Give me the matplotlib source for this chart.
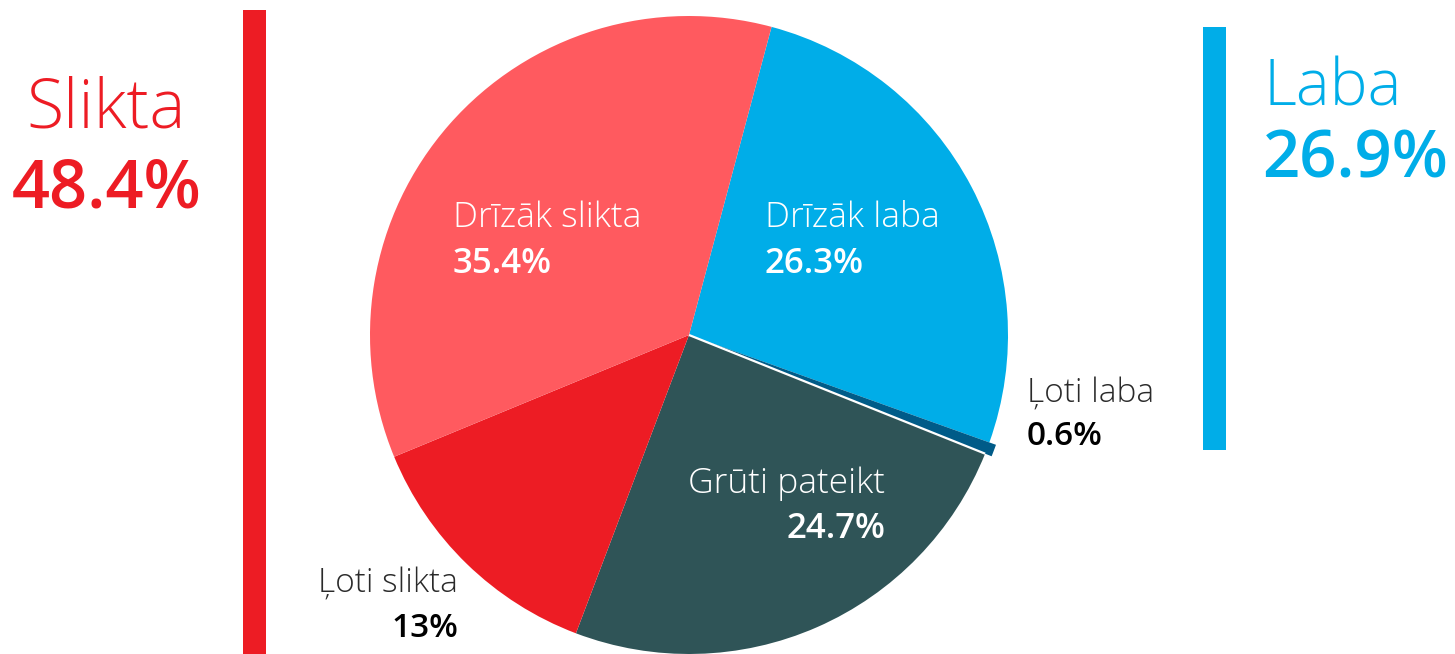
import numpy as np
import matplotlib
matplotlib.use("Agg")
import matplotlib.pyplot as plt
from matplotlib.patches import Rectangle

# dati
kategorijas = ["Drīzāk laba", "Ļoti laba", "Grūti pateikt", "Ļoti slikta", "Drīzāk slikta"]
vertibas = [26.3, 0.6, 24.7, 13.0, 35.4]
krasas = ["#00ADE8", "#005B88", "#2F5457", "#ED1C24", "#FF5A5F"]
kopsummas = {"Slikta": 48.4, "Laba": 26.9}

W, H = 1455, 654
plt.rcParams['font.family'] = ['Open Sans', 'DejaVu Sans']

fig = plt.figure(figsize=(W / 100, H / 100), dpi=100)
ax = fig.add_axes([0, 0, 1, 1])

cx, cy, r = 689, H - 335, 319
wedges, _ = ax.pie(vertibas, colors=krasas, startangle=75, counterclock=False,
                   center=(cx, cy), radius=r, frame=True,
                   wedgeprops=dict(linewidth=0, antialiased=True))
ax.set_xlim(0, W)
ax.set_ylim(0, H)
ax.set_aspect("equal")
ax.axis("off")

# Ļoti laba nedaudz izvirzīta + balta līnija
wedges[1].set_radius(r * 1.022)
ang = np.deg2rad(wedges[2].theta2)
ax.plot([cx, cx + r * np.cos(ang)], [cy, cy + r * np.sin(ang)], color="white", lw=1.6,
        solid_capstyle="butt", zorder=5)

# sānu joslas
ax.add_patch(Rectangle((243, 0), 23, H - 10, color="#ED1C24", lw=0))
ax.add_patch(Rectangle((1203, H - 450), 23, 423, color="#00ADE8", lw=0))

def y(px):
    return H - px

light = dict(fontweight="light")
num = dict(fontweight="semibold")
# iekšējās etiķetes
ax.text(453, y(227), kategorijas[4], color="white", fontsize=25.5, va="baseline", **light)
ax.text(453, y(273), f"{vertibas[4]:.1f}%", color="white", fontsize=25, va="baseline", **num)
ax.text(765, y(227), kategorijas[0], color="white", fontsize=25.5, va="baseline", **light)
ax.text(765, y(273), f"{vertibas[0]:.1f}%", color="white", fontsize=25, va="baseline", **num)
ax.text(885, y(493), kategorijas[2], color="white", fontsize=25.5, ha="right", va="baseline", **light)
ax.text(885, y(538), f"{vertibas[2]:.1f}%", color="white", fontsize=25, ha="right", va="baseline", **num)

# ārējās etiķetes
ax.text(1027, y(402), kategorijas[1], color="#2a2a2a", fontsize=24, va="baseline", **light)
ax.text(1027, y(445), f"{vertibas[1]:.1f}%", color="black", fontsize=24, va="baseline", **num)
ax.text(458, y(592), kategorijas[3], color="#2a2a2a", fontsize=24, ha="right", va="baseline", **light)
ax.text(458, y(637), f"{vertibas[3]:.0f}%", color="black", fontsize=24, ha="right", va="baseline", **num)

# kopsummas
ax.text(106, y(128), "Slikta", color="#ED1C24", fontsize=49, ha="center", va="baseline", **light)
ax.text(107, y(208), f"{kopsummas['Slikta']:.1f}%", color="#ED1C24", fontsize=48,
        ha="center", va="baseline", **num)
ax.text(1264, y(105), "Laba", color="#00ADE8", fontsize=46, va="baseline", **light)
ax.text(1262, y(177), f"{kopsummas['Laba']:.1f}%", color="#00ADE8", fontsize=47,
        va="baseline", **num)

fig.savefig("out.png", dpi=100, facecolor="white")
